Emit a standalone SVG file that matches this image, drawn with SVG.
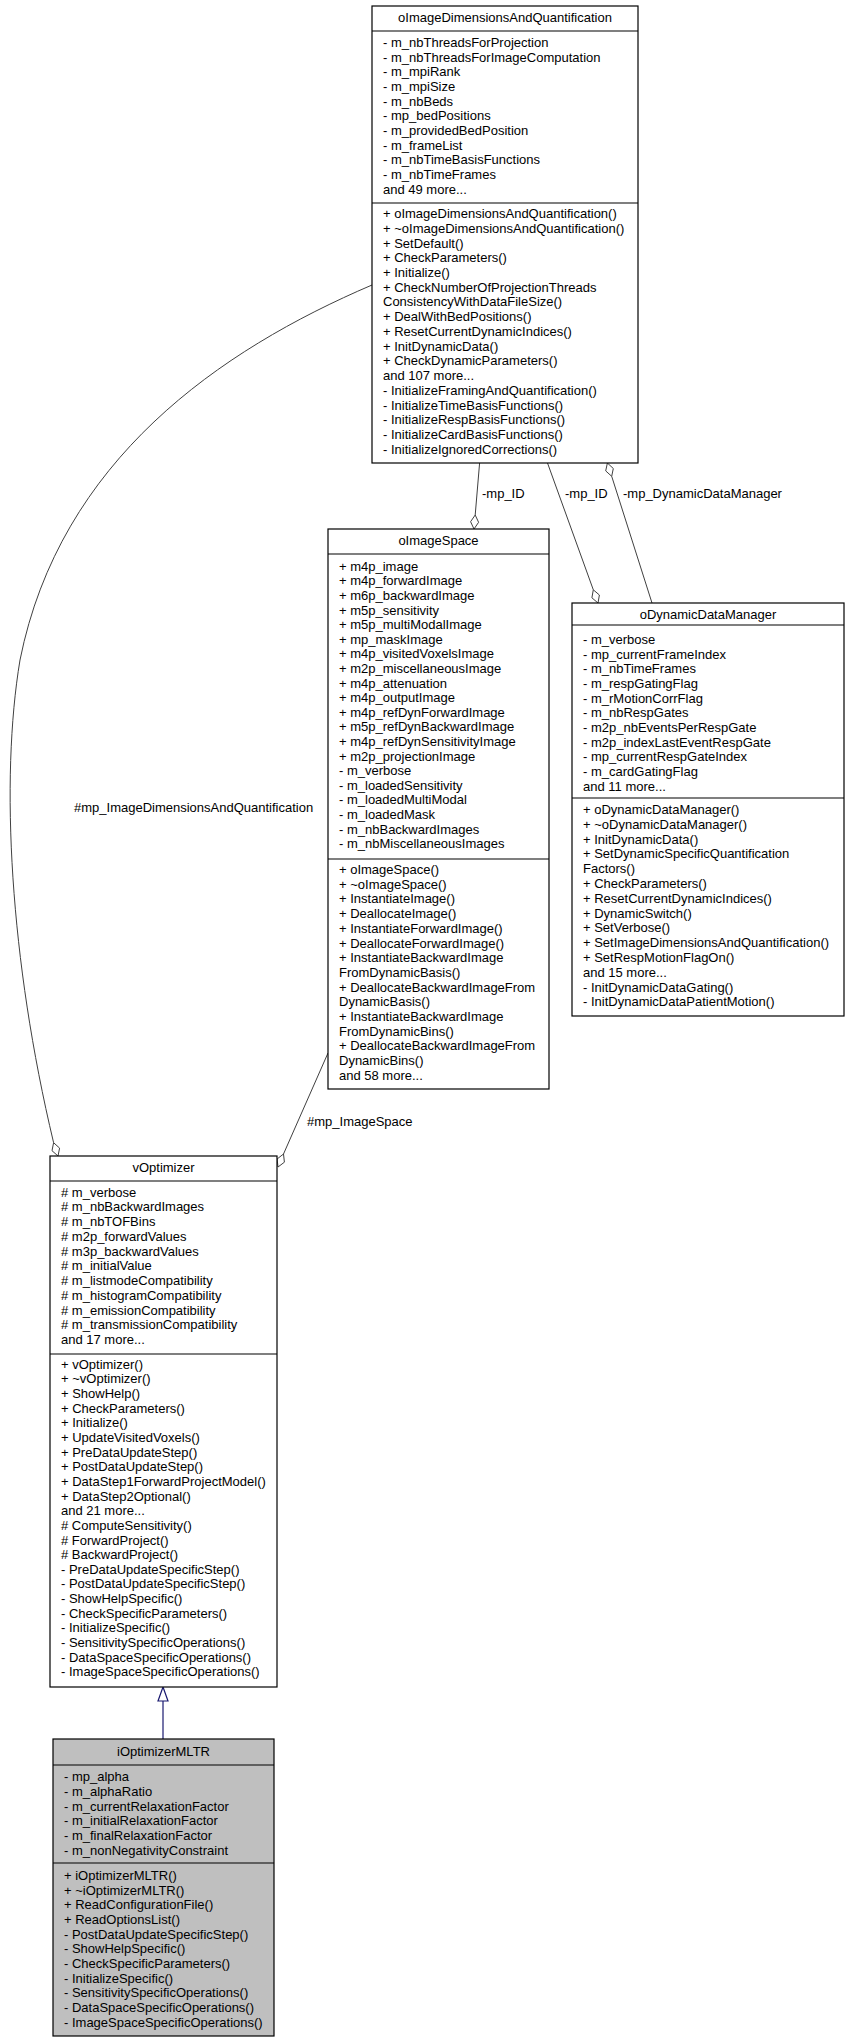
<svg xmlns="http://www.w3.org/2000/svg" width="848" height="2043" viewBox="0 0 848 2043">
<style>
text{font-family:"Liberation Sans",Arial,sans-serif;font-size:13px;fill:#000}
.t{text-anchor:middle}
.box{fill:#fff;stroke:#000;stroke-width:1.2}
.sel{fill:#bfbfbf;stroke:#000;stroke-width:1.2}
.sep{stroke:#000;stroke-width:1.2}
.c{fill:none;stroke:#404040;stroke-width:1}
.d{fill:#fff;stroke:#404040;stroke-width:1}
</style>
<rect width="848" height="2043" fill="#fff"/>
<g id="connectors">
<path class="c" d="M479.6,463 L475.2,515"/>
<polygon class="d" points="474,529 478.6,522.3 475.2,515 470.6,521.7"/>
<text x="482" y="498">-mp_ID</text>
<path class="c" d="M547.5,463 L593.3,589.8"/>
<polygon class="d" points="598,603 599.4,595 593.3,589.8 591.9,597.8"/>
<text x="565" y="498">-mp_ID</text>
<path class="c" d="M652,603 L611.7,476.3"/>
<polygon class="d" points="607.4,463 613.3,468.5 611.7,476.3 605.7,470.9"/>
<text x="623" y="498">-mp_DynamicDataManager</text>
<path class="c" d="M372,285 C220,350 60,460 20,660 C0,780 10,960 53.6,1142.7"/>
<polygon class="d" points="58,1156 59.6,1148.1 53.6,1142.7 52,1150.7"/>
<text x="74" y="812">#mp_ImageDimensionsAndQuantification</text>
<path class="c" d="M328,1053 L283.5,1154"/>
<polygon class="d" points="278,1167 284.4,1162.2 283.5,1154 277.1,1159"/>
<text x="307" y="1126">#mp_ImageSpace</text>
<path d="M163,1701 L163,1739" fill="none" stroke="#191970" stroke-width="1.2"/>
<polygon points="163,1687 168,1701 158,1701" fill="#fff" stroke="#191970" stroke-width="1.2"/>
</g>
<g id="oImageDimensionsAndQuantification">
<rect class="box" x="372" y="6" width="266" height="457"/>
<line class="sep" x1="372" y1="31" x2="638" y2="31"/>
<line class="sep" x1="372" y1="203" x2="638" y2="203"/>
<text class="t" x="505" y="22">oImageDimensionsAndQuantification</text>
<text x="383" y="47">- m_nbThreadsForProjection</text>
<text x="383" y="61.7">- m_nbThreadsForImageComputation</text>
<text x="383" y="76.3">- m_mpiRank</text>
<text x="383" y="91">- m_mpiSize</text>
<text x="383" y="105.7">- m_nbBeds</text>
<text x="383" y="120.4">- mp_bedPositions</text>
<text x="383" y="135">- m_providedBedPosition</text>
<text x="383" y="149.7">- m_frameList</text>
<text x="383" y="164.4">- m_nbTimeBasisFunctions</text>
<text x="383" y="179">- m_nbTimeFrames</text>
<text x="383" y="193.7">and 49 more...</text>
<text x="383" y="218">+ oImageDimensionsAndQuantification()</text>
<text x="383" y="232.7">+ ~oImageDimensionsAndQuantification()</text>
<text x="383" y="247.5">+ SetDefault()</text>
<text x="383" y="262.2">+ CheckParameters()</text>
<text x="383" y="276.9">+ Initialize()</text>
<text x="383" y="291.7">+ CheckNumberOfProjectionThreads</text>
<text x="383" y="306.4">ConsistencyWithDataFileSize()</text>
<text x="383" y="321.1">+ DealWithBedPositions()</text>
<text x="383" y="335.8">+ ResetCurrentDynamicIndices()</text>
<text x="383" y="350.6">+ InitDynamicData()</text>
<text x="383" y="365.3">+ CheckDynamicParameters()</text>
<text x="383" y="380">and 107 more...</text>
<text x="383" y="394.8">- InitializeFramingAndQuantification()</text>
<text x="383" y="409.5">- InitializeTimeBasisFunctions()</text>
<text x="383" y="424.2">- InitializeRespBasisFunctions()</text>
<text x="383" y="438.9">- InitializeCardBasisFunctions()</text>
<text x="383" y="453.7">- InitializeIgnoredCorrections()</text>
</g>
<g id="oImageSpace">
<rect class="box" x="328" y="529" width="221" height="560"/>
<line class="sep" x1="328" y1="554" x2="549" y2="554"/>
<line class="sep" x1="328" y1="859" x2="549" y2="859"/>
<text class="t" x="438.5" y="545">oImageSpace</text>
<text x="339" y="570.7">+ m4p_image</text>
<text x="339" y="585.3">+ m4p_forwardImage</text>
<text x="339" y="599.9">+ m6p_backwardImage</text>
<text x="339" y="614.5">+ m5p_sensitivity</text>
<text x="339" y="629.1">+ m5p_multiModalImage</text>
<text x="339" y="643.7">+ mp_maskImage</text>
<text x="339" y="658.3">+ m4p_visitedVoxelsImage</text>
<text x="339" y="672.9">+ m2p_miscellaneousImage</text>
<text x="339" y="687.5">+ m4p_attenuation</text>
<text x="339" y="702.1">+ m4p_outputImage</text>
<text x="339" y="716.7">+ m4p_refDynForwardImage</text>
<text x="339" y="731.3">+ m5p_refDynBackwardImage</text>
<text x="339" y="745.9">+ m4p_refDynSensitivityImage</text>
<text x="339" y="760.5">+ m2p_projectionImage</text>
<text x="339" y="775.1">- m_verbose</text>
<text x="339" y="789.7">- m_loadedSensitivity</text>
<text x="339" y="804.3">- m_loadedMultiModal</text>
<text x="339" y="818.9">- m_loadedMask</text>
<text x="339" y="833.5">- m_nbBackwardImages</text>
<text x="339" y="848.1">- m_nbMiscellaneousImages</text>
<text x="339" y="874">+ oImageSpace()</text>
<text x="339" y="888.7">+ ~oImageSpace()</text>
<text x="339" y="903.4">+ InstantiateImage()</text>
<text x="339" y="918.1">+ DeallocateImage()</text>
<text x="339" y="932.8">+ InstantiateForwardImage()</text>
<text x="339" y="947.5">+ DeallocateForwardImage()</text>
<text x="339" y="962.2">+ InstantiateBackwardImage</text>
<text x="339" y="976.9">FromDynamicBasis()</text>
<text x="339" y="991.6">+ DeallocateBackwardImageFrom</text>
<text x="339" y="1006.3">DynamicBasis()</text>
<text x="339" y="1021">+ InstantiateBackwardImage</text>
<text x="339" y="1035.7">FromDynamicBins()</text>
<text x="339" y="1050.4">+ DeallocateBackwardImageFrom</text>
<text x="339" y="1065.1">DynamicBins()</text>
<text x="339" y="1079.8">and 58 more...</text>
</g>
<g id="oDynamicDataManager">
<rect class="box" x="572" y="603" width="272" height="413"/>
<line class="sep" x1="572" y1="625" x2="844" y2="625"/>
<line class="sep" x1="572" y1="798" x2="844" y2="798"/>
<text class="t" x="708" y="618.5">oDynamicDataManager</text>
<text x="583" y="644">- m_verbose</text>
<text x="583" y="658.7">- mp_currentFrameIndex</text>
<text x="583" y="673.3">- m_nbTimeFrames</text>
<text x="583" y="688">- m_respGatingFlag</text>
<text x="583" y="702.7">- m_rMotionCorrFlag</text>
<text x="583" y="717.4">- m_nbRespGates</text>
<text x="583" y="732">- m2p_nbEventsPerRespGate</text>
<text x="583" y="746.7">- m2p_indexLastEventRespGate</text>
<text x="583" y="761.4">- mp_currentRespGateIndex</text>
<text x="583" y="776">- m_cardGatingFlag</text>
<text x="583" y="790.7">and 11 more...</text>
<text x="583" y="814">+ oDynamicDataManager()</text>
<text x="583" y="828.8">+ ~oDynamicDataManager()</text>
<text x="583" y="843.6">+ InitDynamicData()</text>
<text x="583" y="858.4">+ SetDynamicSpecificQuantification</text>
<text x="583" y="873.2">Factors()</text>
<text x="583" y="888">+ CheckParameters()</text>
<text x="583" y="902.8">+ ResetCurrentDynamicIndices()</text>
<text x="583" y="917.6">+ DynamicSwitch()</text>
<text x="583" y="932.4">+ SetVerbose()</text>
<text x="583" y="947.2">+ SetImageDimensionsAndQuantification()</text>
<text x="583" y="962">+ SetRespMotionFlagOn()</text>
<text x="583" y="976.8">and 15 more...</text>
<text x="583" y="991.6">- InitDynamicDataGating()</text>
<text x="583" y="1006.4">- InitDynamicDataPatientMotion()</text>
</g>
<g id="vOptimizer">
<rect class="box" x="50" y="1156" width="227" height="531"/>
<line class="sep" x1="50" y1="1181" x2="277" y2="1181"/>
<line class="sep" x1="50" y1="1354" x2="277" y2="1354"/>
<text class="t" x="163.5" y="1171.5">vOptimizer</text>
<text x="61" y="1196.6"># m_verbose</text>
<text x="61" y="1211.3"># m_nbBackwardImages</text>
<text x="61" y="1226.1"># m_nbTOFBins</text>
<text x="61" y="1240.8"># m2p_forwardValues</text>
<text x="61" y="1255.6"># m3p_backwardValues</text>
<text x="61" y="1270.3"># m_initialValue</text>
<text x="61" y="1285"># m_listmodeCompatibility</text>
<text x="61" y="1299.8"># m_histogramCompatibility</text>
<text x="61" y="1314.5"># m_emissionCompatibility</text>
<text x="61" y="1329.3"># m_transmissionCompatibility</text>
<text x="61" y="1344">and 17 more...</text>
<text x="61" y="1368.8">+ vOptimizer()</text>
<text x="61" y="1383.4">+ ~vOptimizer()</text>
<text x="61" y="1398.1">+ ShowHelp()</text>
<text x="61" y="1412.7">+ CheckParameters()</text>
<text x="61" y="1427.4">+ Initialize()</text>
<text x="61" y="1442">+ UpdateVisitedVoxels()</text>
<text x="61" y="1456.6">+ PreDataUpdateStep()</text>
<text x="61" y="1471.3">+ PostDataUpdateStep()</text>
<text x="61" y="1485.9">+ DataStep1ForwardProjectModel()</text>
<text x="61" y="1500.6">+ DataStep2Optional()</text>
<text x="61" y="1515.2">and 21 more...</text>
<text x="61" y="1529.8"># ComputeSensitivity()</text>
<text x="61" y="1544.5"># ForwardProject()</text>
<text x="61" y="1559.1"># BackwardProject()</text>
<text x="61" y="1573.8">- PreDataUpdateSpecificStep()</text>
<text x="61" y="1588.4">- PostDataUpdateSpecificStep()</text>
<text x="61" y="1603">- ShowHelpSpecific()</text>
<text x="61" y="1617.7">- CheckSpecificParameters()</text>
<text x="61" y="1632.3">- InitializeSpecific()</text>
<text x="61" y="1647">- SensitivitySpecificOperations()</text>
<text x="61" y="1661.6">- DataSpaceSpecificOperations()</text>
<text x="61" y="1676.2">- ImageSpaceSpecificOperations()</text>
</g>
<g id="iOptimizerMLTR">
<rect class="sel" x="53" y="1739" width="221" height="297"/>
<line class="sep" x1="53" y1="1765" x2="274" y2="1765"/>
<line class="sep" x1="53" y1="1863" x2="274" y2="1863"/>
<text class="t" x="163.5" y="1756">iOptimizerMLTR</text>
<text x="64" y="1781">- mp_alpha</text>
<text x="64" y="1795.8">- m_alphaRatio</text>
<text x="64" y="1810.6">- m_currentRelaxationFactor</text>
<text x="64" y="1825.4">- m_initialRelaxationFactor</text>
<text x="64" y="1840.2">- m_finalRelaxationFactor</text>
<text x="64" y="1855">- m_nonNegativityConstraint</text>
<text x="64" y="1880">+ iOptimizerMLTR()</text>
<text x="64" y="1894.7">+ ~iOptimizerMLTR()</text>
<text x="64" y="1909.3">+ ReadConfigurationFile()</text>
<text x="64" y="1924">+ ReadOptionsList()</text>
<text x="64" y="1938.7">- PostDataUpdateSpecificStep()</text>
<text x="64" y="1953.4">- ShowHelpSpecific()</text>
<text x="64" y="1968">- CheckSpecificParameters()</text>
<text x="64" y="1982.7">- InitializeSpecific()</text>
<text x="64" y="1997.4">- SensitivitySpecificOperations()</text>
<text x="64" y="2012">- DataSpaceSpecificOperations()</text>
<text x="64" y="2026.7">- ImageSpaceSpecificOperations()</text>
</g>
</svg>
